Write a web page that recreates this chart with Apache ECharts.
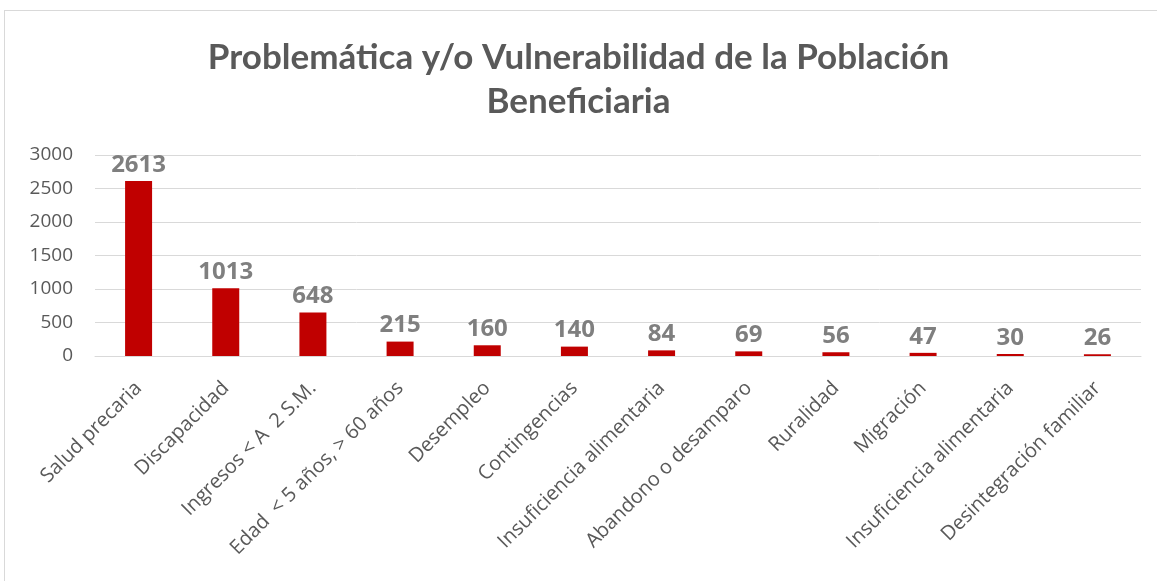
<!DOCTYPE html>
<html><head><meta charset="utf-8">
<script src="https://cdn.jsdelivr.net/npm/echarts@6/dist/echarts.min.js"></script>
<style>
html,body{margin:0;padding:0;background:#fff;overflow:hidden;}
#frame{position:absolute;left:4px;top:10px;width:1170px;height:600px;border:1px solid #d9d9d9;box-sizing:border-box;}
#c{position:absolute;left:0;top:0;width:1157px;height:581px;}
</style></head>
<body>
<div id="frame"></div>
<div id="c"></div>
<script>
const titleText = "Problemática y/o Vulnerabilidad de la Población\nBeneficiaria";
const categories = ["Salud precaria","Discapacidad","Ingresos < A  2 S.M.","Edad  < 5 años, > 60 años","Desempleo","Contingencias","Insuficiencia alimentaria","Abandono o desamparo","Ruralidad","Migración","Insuficiencia alimentaria","Desintegración familiar"];
const values = [2613,1013,648,215,160,140,84,69,56,47,30,26];
const yTicks = {min:0,max:3000,interval:500};

const chart = echarts.init(document.getElementById('c'), null, {renderer:'canvas'});
chart.setOption({
  animation:false,
  title:{text:titleText,left:'center',top:31,textStyle:{fontFamily:'Lato',fontWeight:'bold',fontSize:35,color:'#595959',lineHeight:44}},
  grid:{left:95,right:16,top:155,bottom:225},
  xAxis:{type:'category',data:categories,
    axisLine:{show:true,lineStyle:{color:'#d9d9d9',width:1}},
    axisTick:{show:false},
    axisLabel:{rotate:45,interval:0,margin:29,fontFamily:'Open Sans',fontSize:20,color:'#595959'}},
  yAxis:{type:'value',min:yTicks.min,max:yTicks.max,interval:yTicks.interval,
    axisLine:{show:false},axisTick:{show:false},
    splitLine:{lineStyle:{color:'#d9d9d9',width:1}},
    axisLabel:{fontFamily:'Open Sans',fontSize:19,color:'#595959',margin:22,formatter:function(v){return String(v);}}},
  series:[{type:'bar',data:values,barWidth:27,
    itemStyle:{color:'#c00000'},
    label:{show:true,position:'top',distance:4,fontFamily:'Open Sans',fontWeight:'bold',fontSize:24,color:'#7f7f7f'}}]
});
</script>
</body></html>
